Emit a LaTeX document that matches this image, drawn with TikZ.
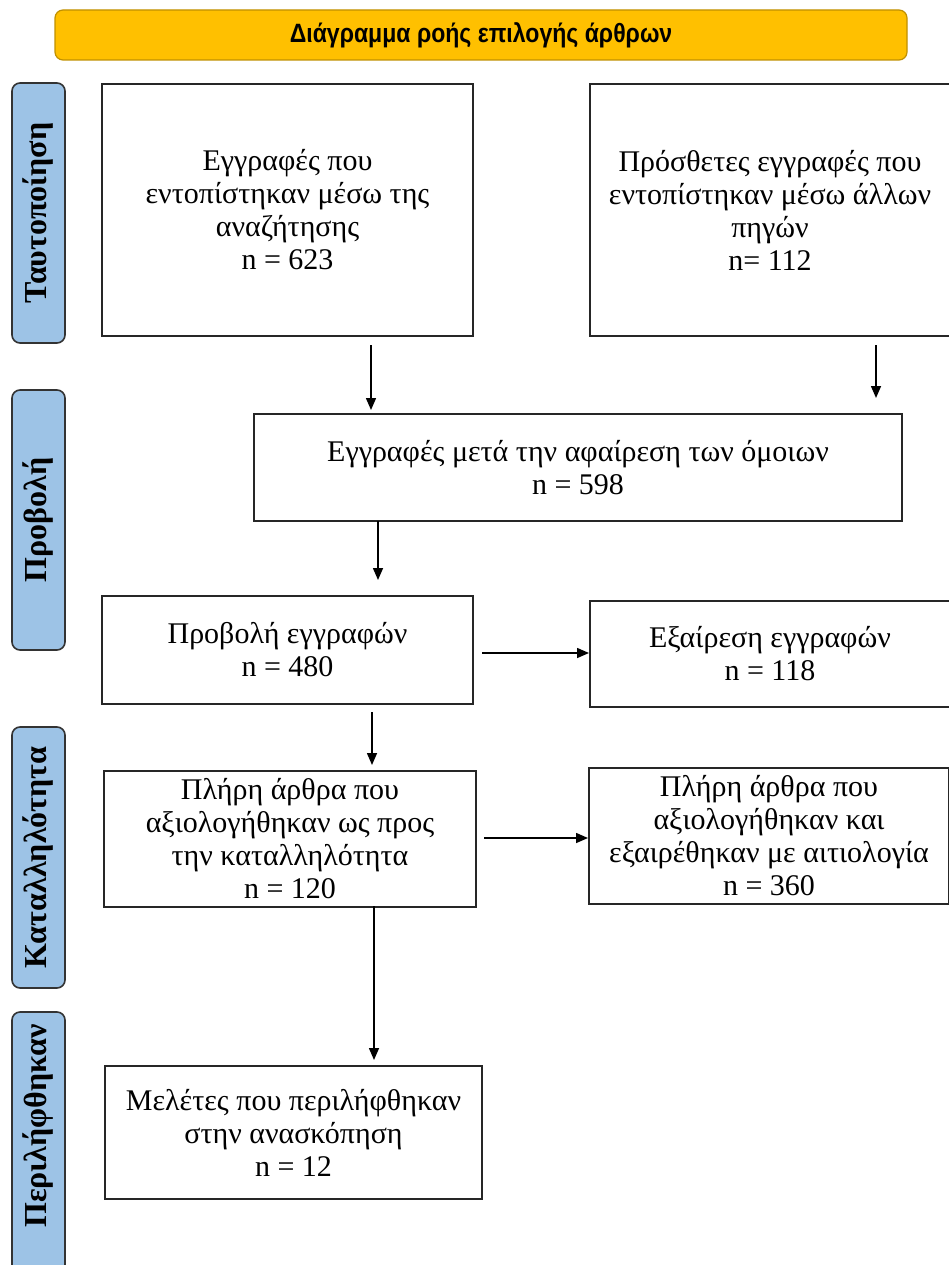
\documentclass[tikz,border=0pt]{standalone}
\usepackage{fontspec}
\setmainfont{Liberation Serif}
\newfontfamily\titlefont[FakeStretch=0.87]{Liberation Sans}
\usetikzlibrary{arrows.meta}
\definecolor{titlefill}{HTML}{FFC000}
\definecolor{titleedge}{HTML}{C09000}
\definecolor{stagefill}{HTML}{9DC3E6}
\definecolor{stageedge}{HTML}{333333}
\definecolor{boxedge}{HTML}{262626}
\tikzset{
  x=1pt, y=-1pt,
  flowbox/.style={draw=boxedge, line width=2pt, fill=white, anchor=north west,
    align=center, inner sep=0pt, font=\fontsize{30}{33}\selectfont},
  stagefont/.style={font=\fontsize{32}{34}\selectfont\bfseries},
  stage/.style={draw=stageedge, line width=1.6pt, fill=stagefill, rounded corners=8pt,
    rotate=90, minimum height=53pt, inner sep=0pt, stagefont},
  stagetext/.style={rotate=90, inner sep=0pt, stagefont},
  arr/.style={line width=1.5pt, -{Triangle[length=12pt,width=10pt]}},
}
\begin{document}
\begin{tikzpicture}
\useasboundingbox (0,0) rectangle (949,1265);
\clip (0,0) rectangle (949,1265);

% title bar
\node[draw=titleedge, line width=1.2pt, fill=titlefill, rounded corners=8pt,
  minimum width=852pt, minimum height=50pt, inner sep=0pt,
  font=\titlefont\bfseries\fontsize{26.5}{28}\selectfont] (title) at (481,35)
  {Διάγραμμα ροής επιλογής άρθρων};

% stage labels on the left
\node[stage, minimum width=260pt] (s1) at (38.5,213) {Ταυτοποίηση};
\node[stage, minimum width=260pt] (s2) at (38.5,520) {Προβολή};
\node[stage, minimum width=261pt] (s3) at (38.5,857.5) {Καταλληλότητα};
\node[stage, minimum width=290pt] (s4) at (38.5,1157) {};
\node[stagetext] (s4t) at (38.5,1126) {Περιλήφθηκαν};

% flow boxes
\node[flowbox, minimum width=371pt, minimum height=252pt] (b1) at (101,83)
  {Εγγραφές που\\εντοπίστηκαν μέσω της\\αναζήτησης\\n = 623};
\node[flowbox, minimum width=360pt, minimum height=252pt] (b2) at (589,83)
  {Πρόσθετες εγγραφές που\\εντοπίστηκαν μέσω άλλων\\πηγών\\n= 112};
\node[flowbox, minimum width=648pt, minimum height=107pt] (b3) at (253,413)
  {Εγγραφές μετά την αφαίρεση των όμοιων\\n = 598};
\node[flowbox, minimum width=371pt, minimum height=108pt] (b4) at (101,595)
  {Προβολή εγγραφών\\n = 480};
\node[flowbox, minimum width=360pt, minimum height=106pt] (b5) at (589,600)
  {Εξαίρεση εγγραφών\\n = 118};
\node[flowbox, minimum width=372pt, minimum height=136pt] (b6) at (103,770)
  {Πλήρη άρθρα που\\αξιολογήθηκαν ως προς\\την καταλληλότητα\\n = 120};
\node[flowbox, minimum width=360pt, minimum height=136pt] (b7) at (588,767)
  {Πλήρη άρθρα που\\αξιολογήθηκαν και\\εξαιρέθηκαν με αιτιολογία\\n = 360};
\node[flowbox, minimum width=377pt, minimum height=133pt] (b8) at (104,1065)
  {Μελέτες που περιλήφθηκαν\\στην ανασκόπηση\\n = 12};

% connector start points
\coordinate (a1) at (371,345);
\coordinate (a2) at (876,345);
\coordinate (a3) at (378,521);
\coordinate (a4) at (372,712);
\coordinate (a5) at (374,906);
\coordinate (a6) at (482,653);
\coordinate (a7) at (484,838);

% connectors
\draw[arr, shorten >=3pt] (a1) -- (a1 |- b3.north);
\draw[arr, shorten >=15pt] (a2) -- (a2 |- b3.north);
\draw[arr, shorten >=15pt] (a3) -- (a3 |- b4.north);
\draw[arr, shorten >=5pt] (a4) -- (a4 |- b6.north);
\draw[arr, shorten >=5pt] (a5) -- (a5 |- b8.north);
\draw[arr] (a6) -- (a6 -| b5.west);
\draw[arr] (a7) -- (a7 -| b7.west);
\end{tikzpicture}
\end{document}
